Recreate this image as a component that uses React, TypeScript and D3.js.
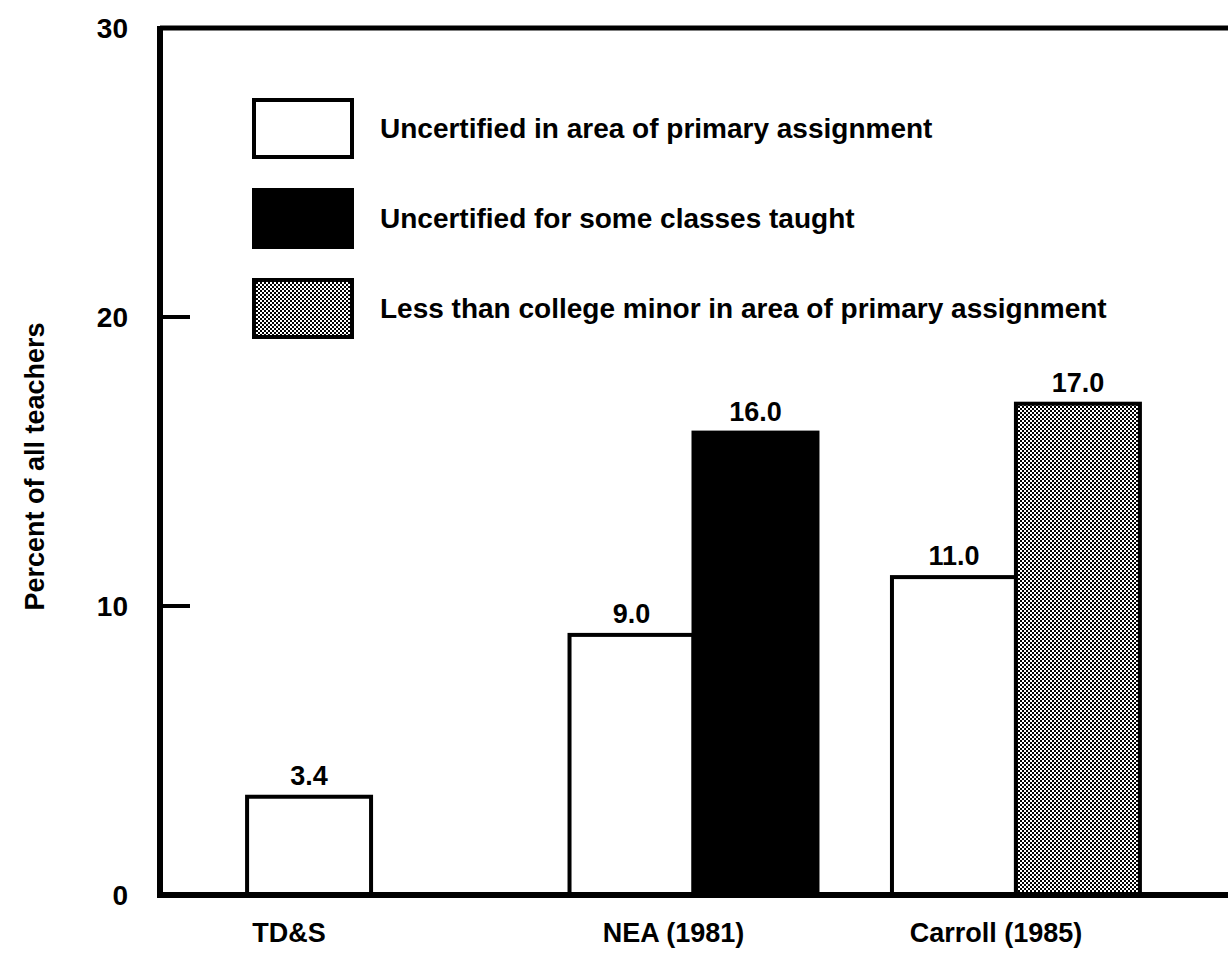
import { useMemo } from 'react';
import * as d3 from 'd3';

// chart data
const categories = ['TD&S', 'NEA (1981)', 'Carroll (1985)'];
const seriesNames = [
  'Uncertified in area of primary assignment',
  'Uncertified for some classes taught',
  'Less than college minor in area of primary assignment',
];
const uncertifiedPrimary: (number | null)[] = [3.4, 9.0, 11.0];
const uncertifiedSome: (number | null)[] = [null, 16.0, null];
const lessThanMinor: (number | null)[] = [null, null, 17.0];
const yTicks = [0, 10, 20, 30];
const yLabel = 'Percent of all teachers';

const W = 1228;
const H = 957;
const FONT = '"Liberation Sans", Arial, Helvetica, sans-serif';
const fills = ['#fff', '#000', 'url(#dither)'];

export default function App() {
  const margin = { top: 28, right: 0, bottom: 62, left: 160 };

  const y = useMemo(
    () => d3.scaleLinear().domain([0, 30]).range([H - margin.bottom, margin.top]),
    []
  );
  const x0 = useMemo(
    () =>
      d3.scaleBand<string>()
        .domain(categories)
        .range([210, 1177])
        .paddingInner(0.231)
        .paddingOuter(0.115),
    []
  );
  const x1 = useMemo(
    () => d3.scaleBand<number>().domain([0, 1]).range([0, x0.bandwidth()]),
    [x0]
  );

  const allSeries = [uncertifiedPrimary, uncertifiedSome, lessThanMinor];

  // bars per group: present values fill slots left to right
  const groups = categories.map((cat, ci) => {
    const bars = allSeries
      .map((s, si) => ({ value: s[ci], si }))
      .filter(b => b.value != null)
      .map((b, slot) => ({
        ...b,
        x: (x0(cat) ?? 0) + (x1(slot) ?? 0),
        w: x1.bandwidth(),
      }));
    const first = bars[0].x;
    const last = bars[bars.length - 1].x + bars[bars.length - 1].w;
    return { cat, bars, center: (first + last) / 2 };
  });

  const y0 = y(0);

  return (
    <svg
      width={W}
      height={H}
      style={{ position: 'absolute', left: 0, top: 0, background: '#fff' }}
      fontFamily={FONT}
      fontWeight="bold"
    >
      <defs>
        <pattern id="dither" width={4} height={4} patternUnits="userSpaceOnUse">
          <rect width={4} height={4} fill="#fff" />
          <rect width={2} height={2} fill="#000" />
          <rect x={2} y={2} width={2} height={2} fill="#000" />
        </pattern>
      </defs>
      <rect width={W} height={H} fill="#fff" />

      {/* bars */}
      {groups.map(g =>
        g.bars.map(b => (
          <g key={`${g.cat}-${b.si}`}>
            <rect
              x={b.x}
              y={y(b.value as number)}
              width={b.w}
              height={y0 - y(b.value as number)}
              fill={fills[b.si]}
              stroke="#000"
              strokeWidth={4}
            />
            <text
              x={b.x + b.w / 2}
              y={y(b.value as number) - 12}
              textAnchor="middle"
              fontSize={27}
            >
              {(b.value as number).toFixed(1)}
            </text>
          </g>
        ))
      )}

      {/* frame / axes */}
      <line x1={margin.left} x2={W} y1={margin.top} y2={margin.top} stroke="#000" strokeWidth={5} />
      <line x1={margin.left} x2={margin.left} y1={margin.top - 2} y2={y0 + 2} stroke="#000" strokeWidth={6} />
      <line x1={margin.left - 3} x2={W} y1={y0} y2={y0} stroke="#000" strokeWidth={6} />

      {/* y ticks */}
      {yTicks.map(t => (
        <g key={t}>
          {t > 0 && t < 30 && (
            <line x1={margin.left} x2={margin.left + 30} y1={y(t)} y2={y(t)} stroke="#000" strokeWidth={4} />
          )}
          <text x={128} y={y(t)} dy="0.35em" textAnchor="end" fontSize={28}>
            {t}
          </text>
        </g>
      ))}

      {/* y label */}
      <text
        transform={`translate(44,${(margin.top + y0) / 2 + 5}) rotate(-90)`}
        textAnchor="middle"
        fontSize={27}
      >
        {yLabel}
      </text>

      {/* category labels */}
      {groups.map(g => (
        <text key={g.cat} x={g.center - 20} y={942} textAnchor="middle" fontSize={27}>
          {g.cat}
        </text>
      ))}

      {/* legend */}
      {seriesNames.map((name, i) => (
        <g key={name} transform={`translate(254,${100 + i * 90})`}>
          <rect width={98} height={57} fill={fills[i]} stroke="#000" strokeWidth={4} />
          <text x={126} y={28} dy="0.35em" fontSize={28}>
            {name}
          </text>
        </g>
      ))}
    </svg>
  );
}
